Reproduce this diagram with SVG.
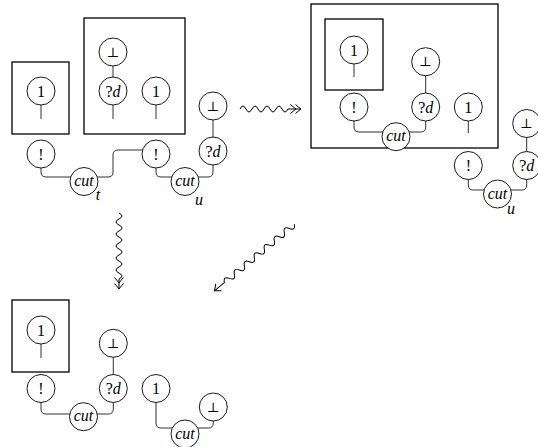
<svg xmlns="http://www.w3.org/2000/svg" xmlns:xlink="http://www.w3.org/1999/xlink" width="538" height="447" viewBox="0 0 538 447">
<style>
.n circle{fill:#fff;stroke:#000;stroke-width:0.9}
text{font-family:"Liberation Serif","DejaVu Serif",serif;font-size:16px;text-anchor:middle;fill:#000}
.i{font-style:italic}
.bot{font-family:"DejaVu Serif",serif;font-size:13.5px}
.box{fill:none;stroke:#000;stroke-width:1.3}
.w{fill:none;stroke:#333;stroke-width:1}
.ar{fill:none;stroke:#000;stroke-width:1}
</style>
<defs>
<path id="ah" d="M-5.5,-4.5 Q-1.5,-1 0,0 Q-1.5,1 -5.5,4.5"/>
</defs>
<rect width="538" height="447" fill="#fff"/>
<g id="connectors">
<path class="w" d="M41,91 V119"/>
<path class="w" d="M113,52 V119"/>
<path class="w" d="M156,91 V119"/>
<path class="w" d="M41,154 V172 Q41,177 46,177 H84"/>
<path class="w" d="M84,177 H108 Q113,177 113,172 V155 Q113,150 118,150 H156"/>
<path class="w" d="M156,154 V172 Q156,177 161,177 H185"/>
<path class="w" d="M185,177 H208 Q213,177 213,172 V106"/>
<path class="w" d="M354,50 V77"/>
<path class="w" d="M354,107 V127 Q354,132 359,132 H396"/>
<path class="w" d="M396,132 H420.7 Q425.7,132 425.7,127 V61.7"/>
<path class="w" d="M468.3,107 V133"/>
<path class="w" d="M468.3,165.5 V185 Q468.3,190 473.3,190 H497.5"/>
<path class="w" d="M497.5,190 H521.7 Q526.7,190 526.7,185 V123.5"/>
<path class="w" d="M41,330 V358"/>
<path class="w" d="M41,388.5 V409 Q41,414 46,414 H83.5"/>
<path class="w" d="M83.5,414 H108.3 Q113.3,414 113.3,409 V343.3"/>
<path class="w" d="M156,388.5 V423 Q156,428 161,428 H185"/>
<path class="w" d="M185,428 H208.3 Q213.3,428 213.3,423 V407"/>
<g id="arrow-right" transform="translate(240,109)">
<path class="ar" d="M0,0 q3,-6 6,0 t6,0 t6,0 t6,0 t6,0 t6,0 t6,0 t6,0 L61,0"/>
<use xlink:href="#ah" class="ar" transform="translate(56,0)"/>
<use xlink:href="#ah" class="ar" transform="translate(61,0)"/>
</g>
<g id="arrow-down" transform="translate(119,213) rotate(90)">
<path class="ar" d="M0,0 q3,-6 6,0 t6,0 t6,0 t6,0 t6,0 t6,0 t6,0 t6,0 t6,0 t6,0 t6,0 L76,0"/>
<use xlink:href="#ah" class="ar" transform="translate(70,0)"/>
<use xlink:href="#ah" class="ar" transform="translate(76,0)"/>
</g>
<g id="arrow-diag" transform="translate(294.3,224.3) rotate(140.2)">
<path class="ar" d="M0,0 q3.25,-6 6.5,0 t6.5,0 t6.5,0 t6.5,0 t6.5,0 t6.5,0 t6.5,0 t6.5,0 t6.5,0 t6.5,0 t6.5,0 t6.5,0 t6.5,0 t6.5,0 L104,0"/>
<use xlink:href="#ah" class="ar" transform="translate(104,0)"/>
</g>
</g>
<g id="L-box1"><rect class="box" x="12" y="62" width="57" height="72"/></g>
<g id="L-box2"><rect class="box" x="84" y="18" width="101" height="116"/></g>
<g id="L-one1" class="n"><circle cx="41" cy="91" r="14"/><text x="41" y="96.5">1</text></g>
<g id="L-bang1" class="n"><circle cx="41" cy="154" r="14"/><text x="41" y="159.5">!</text></g>
<g id="L-cut-t" class="n"><circle cx="84" cy="181.5" r="14"/><text class="i" x="84" y="186">cut</text><text class="i" x="98" y="200">t</text></g>
<g id="L-bot1" class="n"><circle cx="113" cy="52" r="14"/><text class="bot" x="113" y="56.5">⊥</text></g>
<g id="L-wn1" class="n"><circle cx="113" cy="91" r="14"/><text x="113" y="96.5">?<tspan class="i">d</tspan></text></g>
<g id="L-one2" class="n"><circle cx="156" cy="91" r="14"/><text x="156" y="96.5">1</text></g>
<g id="L-bang2" class="n"><circle cx="156" cy="154" r="14"/><text x="156" y="159.5">!</text></g>
<g id="L-cut-u" class="n"><circle cx="185" cy="181.5" r="14"/><text class="i" x="185" y="186">cut</text><text class="i" x="199" y="205">u</text></g>
<g id="L-wn2" class="n"><circle cx="213" cy="151" r="14"/><text x="213" y="156.5">?<tspan class="i">d</tspan></text></g>
<g id="L-bot2" class="n"><circle cx="213" cy="106" r="14"/><text class="bot" x="213" y="110.5">⊥</text></g>
<g id="R-box-outer"><rect class="box" x="311" y="4" width="187" height="144"/></g>
<g id="R-box-inner"><rect class="box" x="325" y="19" width="58" height="71"/></g>
<g id="R-one1" class="n"><circle cx="354" cy="50" r="14"/><text x="354" y="55.5">1</text></g>
<g id="R-bang1" class="n"><circle cx="354" cy="107" r="14"/><text x="354" y="112.5">!</text></g>
<g id="R-cut" class="n"><circle cx="396" cy="136.7" r="14"/><text class="i" x="396" y="141.2">cut</text></g>
<g id="R-bot1" class="n"><circle cx="425.7" cy="61.7" r="14"/><text class="bot" x="425.7" y="66.2">⊥</text></g>
<g id="R-wn1" class="n"><circle cx="425.7" cy="107" r="14"/><text x="425.7" y="112.5">?<tspan class="i">d</tspan></text></g>
<g id="R-one2" class="n"><circle cx="468.3" cy="107" r="14"/><text x="468.3" y="112.5">1</text></g>
<g id="R-bang2" class="n"><circle cx="468.3" cy="165.5" r="14"/><text x="468.3" y="171">!</text></g>
<g id="R-cut-u" class="n"><circle cx="497.5" cy="194" r="14"/><text class="i" x="497.5" y="198.5">cut</text><text class="i" x="511" y="214">u</text></g>
<g id="R-wn2" class="n"><circle cx="526.7" cy="165.5" r="14"/><text x="526.7" y="171">?<tspan class="i">d</tspan></text></g>
<g id="R-bot2" class="n"><circle cx="526.7" cy="123.5" r="14"/><text class="bot" x="526.7" y="128">⊥</text></g>
<g id="B-box"><rect class="box" x="12" y="300" width="57" height="72"/></g>
<g id="B-one1" class="n"><circle cx="41" cy="330" r="14"/><text x="41" y="335.5">1</text></g>
<g id="B-bang" class="n"><circle cx="41" cy="388.5" r="14"/><text x="41" y="394">!</text></g>
<g id="B-cut1" class="n"><circle cx="83.5" cy="416.7" r="14"/><text class="i" x="83.5" y="421.2">cut</text></g>
<g id="B-bot1" class="n"><circle cx="113.3" cy="343.3" r="14"/><text class="bot" x="113.3" y="347.8">⊥</text></g>
<g id="B-wn" class="n"><circle cx="113.3" cy="388.5" r="14"/><text x="113.3" y="394">?<tspan class="i">d</tspan></text></g>
<g id="B-one2" class="n"><circle cx="156" cy="388.5" r="14"/><text x="156" y="394">1</text></g>
<g id="B-cut2" class="n"><circle cx="185" cy="434" r="14"/><text class="i" x="185" y="438.5">cut</text></g>
<g id="B-bot2" class="n"><circle cx="213.3" cy="407" r="14"/><text class="bot" x="213.3" y="411.5">⊥</text></g>
</svg>
